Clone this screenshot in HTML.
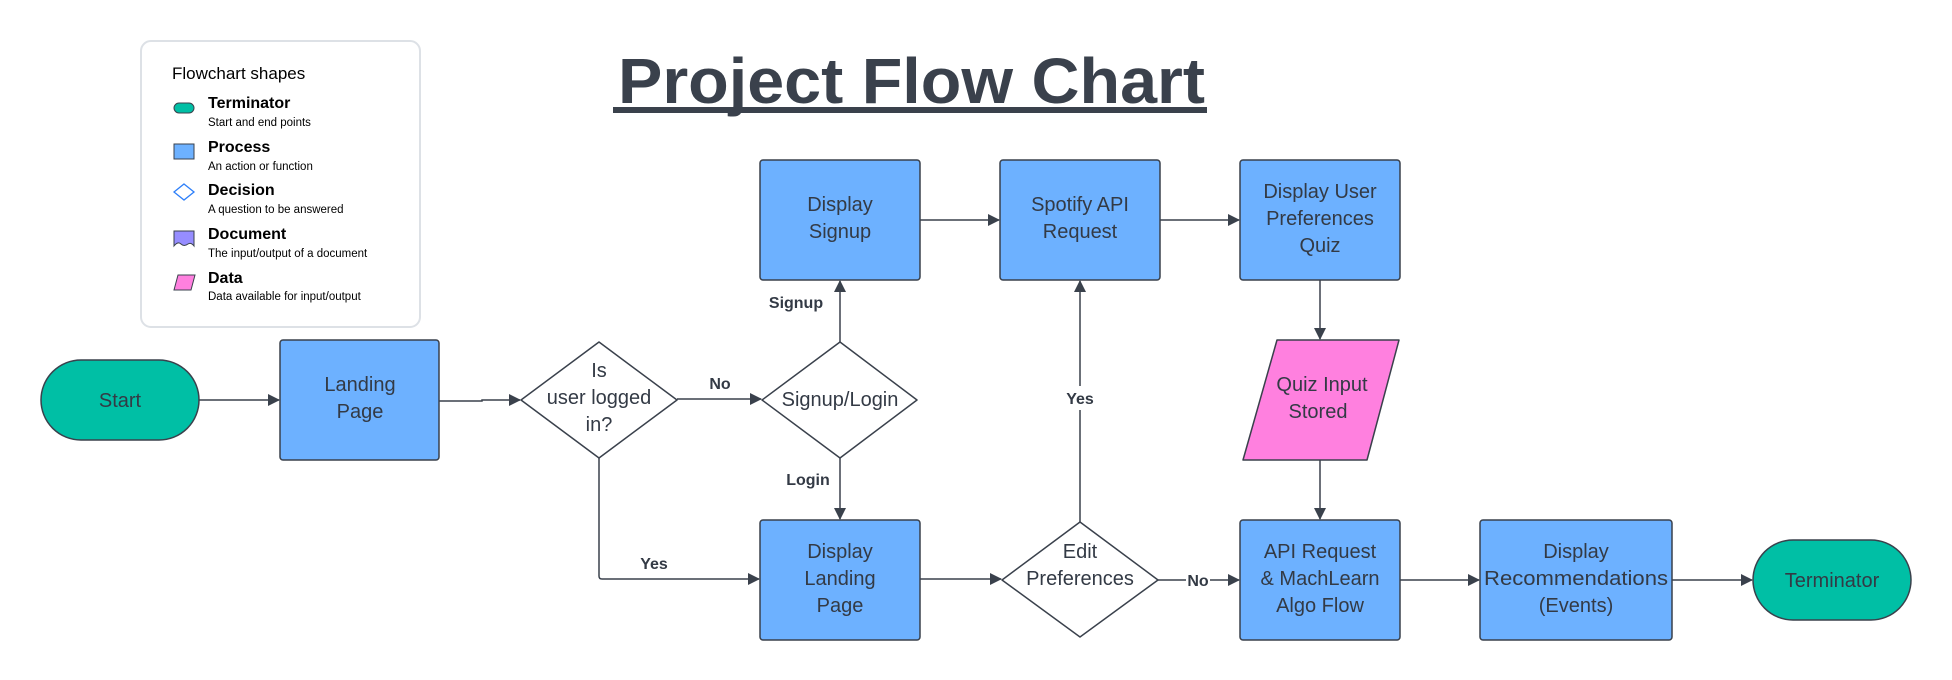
<!DOCTYPE html>
<html><head><meta charset="utf-8"><style>
html,body{margin:0;padding:0;background:#fff;}
svg{display:block;font-family:"Liberation Sans",sans-serif;}
</style></head><body>
<svg width="1952" height="680" viewBox="0 0 1952 680" xmlns="http://www.w3.org/2000/svg">
<defs>
<marker id="a" markerWidth="12" markerHeight="12" refX="11" refY="6" orient="auto" markerUnits="userSpaceOnUse">
<path d="M0,0 L12,6 L0,12 z" fill="#3a414c"/></marker>
</defs>
<!-- Legend -->
<rect x="141" y="41" width="279" height="286" rx="10" fill="#fff" stroke="#dde1e6" stroke-width="2"/>
<text x="172" y="79" font-size="17" fill="#000">Flowchart shapes</text>
<g font-size="16" font-weight="bold" fill="#000">
<text x="208" y="108">Terminator</text>
<text x="208" y="152">Process</text>
<text x="208" y="195">Decision</text>
<text x="208" y="239">Document</text>
<text x="208" y="283">Data</text></g>
<g font-size="11.5" fill="#000">
<text x="208" y="126">Start and end points</text>
<text x="208" y="170">An action or function</text>
<text x="208" y="213">A question to be answered</text>
<text x="208" y="257">The input/output of a document</text>
<text x="208" y="300">Data available for input/output</text></g>
<rect x="174" y="103" width="20" height="10" rx="5" fill="#00bfa5" stroke="#3a414c"/>
<rect x="174" y="144" width="20" height="15" fill="#6db1ff" stroke="#3a414c"/>
<path d="M184,184 L194,192 L184,200 L174,192 z" fill="#fff" stroke="#2d7ff9" stroke-width="1.3"/>
<path d="M174,231 h20 v15 q-3,-4 -6,-2 q-4,3 -7,0 q-3,-3 -7,2 z" fill="#968dff" stroke="#3a414c"/>
<path d="M178,275 h17 l-4,15 h-17 z" fill="#ff80df" stroke="#3a414c"/>
<!-- Title -->
<text x="618" y="103" font-size="64" font-weight="bold" fill="#3a414c" textLength="587" lengthAdjust="spacingAndGlyphs">Project Flow Chart</text>
<rect x="613" y="107" width="594" height="6" fill="#3a414c"/>
<!-- connectors -->
<g stroke="#3a414c" stroke-width="1.5" fill="none">
<path d="M199,400 H279" marker-end="url(#a)"/>
<path d="M439,401 H482 V400 H520" marker-end="url(#a)"/>
<path d="M677,399 H761" marker-end="url(#a)"/>
<path d="M840,342 V281" marker-end="url(#a)"/>
<path d="M840,458 V519" marker-end="url(#a)"/>
<path d="M599,458 V576 q0,3 3,3 H759" marker-end="url(#a)"/>
<path d="M920,220 H999" marker-end="url(#a)"/>
<path d="M1160,220 H1239" marker-end="url(#a)"/>
<path d="M1320,280 V339" marker-end="url(#a)"/>
<path d="M1320,460 V519" marker-end="url(#a)"/>
<path d="M920,579 H1001" marker-end="url(#a)"/>
<path d="M1080,522 V281" marker-end="url(#a)"/>
<path d="M1158,580 H1239" marker-end="url(#a)"/>
<path d="M1400,580 H1479" marker-end="url(#a)"/>
<path d="M1672,580 H1752" marker-end="url(#a)"/>
</g>
<!-- labels -->
<g font-size="16" font-weight="bold" fill="#333a45" text-anchor="middle">
<text x="720" y="389">No</text>
<text x="796" y="308">Signup</text>
<text x="808" y="485">Login</text>
<text x="654" y="569">Yes</text>
<rect x="1064" y="386" width="32" height="24" fill="#fff"/>
<text x="1080" y="404">Yes</text>
<rect x="1186" y="572" width="24" height="16" fill="#fff"/>
<text x="1198" y="586">No</text>
</g>
<!-- nodes -->
<g stroke="#3a414c" stroke-width="1.5">
<rect x="41" y="360" width="158" height="80" rx="40" fill="#00bfa5"/>
<rect x="1753" y="540" width="158" height="80" rx="40" fill="#00bfa5"/>
<rect x="280" y="340" width="159" height="120" rx="3" fill="#6db1ff"/>
<rect x="760" y="160" width="160" height="120" rx="3" fill="#6db1ff"/>
<rect x="760" y="520" width="160" height="120" rx="3" fill="#6db1ff"/>
<rect x="1000" y="160" width="160" height="120" rx="3" fill="#6db1ff"/>
<rect x="1240" y="160" width="160" height="120" rx="3" fill="#6db1ff"/>
<rect x="1240" y="520" width="160" height="120" rx="3" fill="#6db1ff"/>
<rect x="1480" y="520" width="192" height="120" rx="3" fill="#6db1ff"/>
<path d="M1277,340 H1399 L1367,460 H1243 z" fill="#ff80df" stroke-linejoin="round"/>
<path d="M599,342 L677,400 L599,458 L521,400 z" fill="#fff" stroke-linejoin="round"/>
<path d="M840,342 L917,400 L840,458 L762,400 z" fill="#fff" stroke-linejoin="round"/>
<path d="M1080,522 L1158,580 L1080,637 L1002,580 z" fill="#fff" stroke-linejoin="round"/>
</g>
<g font-size="20" fill="#333a45" text-anchor="middle">
<text x="120" y="407">Start</text>
<text x="1832" y="587">Terminator</text>
<text x="360" y="391">Landing</text><text x="360" y="418">Page</text>
<text x="599" y="377">Is</text><text x="599" y="404">user logged</text><text x="599" y="431">in?</text>
<text x="840" y="406">Signup/Login</text>
<text x="840" y="211">Display</text><text x="840" y="238">Signup</text>
<text x="840" y="558">Display</text><text x="840" y="585">Landing</text><text x="840" y="612">Page</text>
<text x="1080" y="211">Spotify API</text><text x="1080" y="238">Request</text>
<text x="1320" y="198">Display User</text><text x="1320" y="225">Preferences</text><text x="1320" y="252">Quiz</text>
<text x="1322" y="391">Quiz Input</text><text x="1318" y="418">Stored</text>
<text x="1080" y="558">Edit</text><text x="1080" y="585">Preferences</text>
<text x="1320" y="558">API Request</text><text x="1320" y="585">&amp; MachLearn</text><text x="1320" y="612">Algo Flow</text>
<text x="1576" y="558">Display</text><text x="1576" y="585" textLength="184" lengthAdjust="spacingAndGlyphs">Recommendations</text><text x="1576" y="612">(Events)</text>
</g>
</svg>
</body></html>
